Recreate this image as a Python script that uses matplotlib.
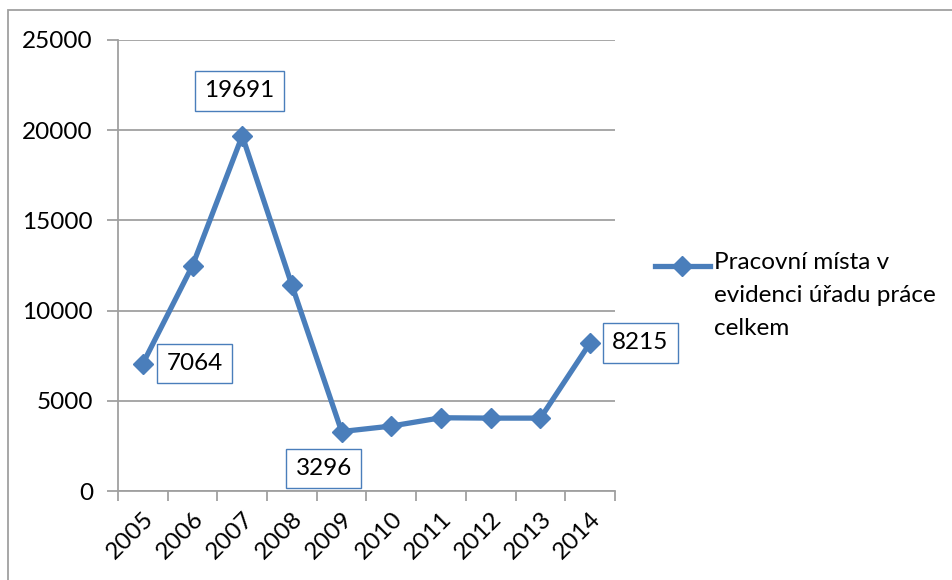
import numpy as np
import matplotlib
matplotlib.use('Agg')
from matplotlib import pyplot as plt
from matplotlib.lines import Line2D
from matplotlib.patches import Rectangle

plt.rcParams['font.family'] = ['Lato', 'DejaVu Sans']

years = ['2005', '2006', '2007', '2008', '2009', '2010', '2011', '2012', '2013', '2014']
values = [7064, 12500, 19691, 11400, 3296, 3600, 4060, 4040, 4040, 8215]
labelled = {0: (52, 0), 2: (-3, 45), 4: (-18, -37), 9: (50, 0)}
series_name = 'Pracovní místa v\nevidenci úřadu práce\ncelkem'

blue = '#4a7ebb'
grey = '#a0a0a0'
fs = 17.5

fig = plt.figure(figsize=(9.53, 5.8), dpi=100)
ax = fig.add_axes([118 / 953, 1 - 491 / 580, (615 - 118) / 953, (491 - 40) / 580])

x = np.arange(len(years))
ax.plot(x, values, color=blue, lw=3.8, marker='D', ms=10, clip_on=False, zorder=3)

for i, (dx, dy) in labelled.items():
    ax.annotate('%d' % values[i], (x[i], values[i]), xytext=(dx, dy),
                textcoords='offset pixels', ha='center', va='center', fontsize=fs,
                bbox=dict(boxstyle='square,pad=0.38', fc='white', ec=blue, lw=1.0),
                zorder=4)

ax.set_xlim(-0.5, len(years) - 0.5)
ax.set_ylim(0, 25000)
ax.set_yticks(np.arange(0, 25001, 5000))
ax.yaxis.grid(True, color=grey, lw=1.3)
ax.set_axisbelow(True)
ax.tick_params(axis='y', length=8, width=1.3, color=grey, labelsize=fs, pad=10)

ax.set_xticks(np.arange(len(years) + 1) - 0.5)
ax.set_xticklabels([])
ax.tick_params(axis='x', which='major', length=7, width=1.3, color=grey)
ax.set_xticks(x, minor=True)
ax.set_xticklabels(years, minor=True, rotation=45, ha='right',
                   rotation_mode='anchor', fontsize=fs)
ax.tick_params(axis='x', which='minor', length=0, pad=12)

for s in ['top', 'right']:
    ax.spines[s].set_visible(False)
for s in ['left', 'bottom']:
    ax.spines[s].set_color(grey)
    ax.spines[s].set_linewidth(1.3)

# legend drawn by hand so the marker sits on the first line
ly = 1 - 266 / 580
fig.add_artist(Line2D([655 / 953, 682 / 953, 710 / 953], [ly, ly, ly],
                      transform=fig.transFigure, color=blue, lw=3.8,
                      marker='D', ms=10, markevery=[1]))
fig.text(714 / 953, 1 - 252 / 580, series_name, fontsize=fs, ha='left', va='top',
         linespacing=1.72, transform=fig.transFigure)

# outer chart frame
fig.add_artist(Rectangle((8 / 953, -0.1), 1.1, 1 - 10 / 580 + 0.1,
                         transform=fig.transFigure, fill=False, ec=grey, lw=1.3))

fig.savefig('out.png', dpi=100)
